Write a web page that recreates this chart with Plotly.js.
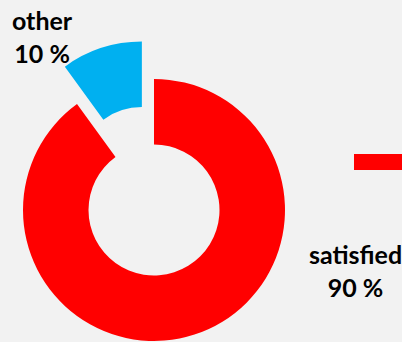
<!DOCTYPE html>
<html>
<head>
<meta charset="utf-8">
<script src="https://cdn.plot.ly/plotly-3.0.1.min.js"></script>
<style>
html, body { margin:0; padding:0; width:402px; height:342px; overflow:hidden; background:#f2f2f2; }
#chart { position:absolute; left:-40px; top:0; width:480px; height:420px; }
</style>
</head>
<body>
<div id="chart"></div>
<script>
// Data
var categories = ['satisfied', 'other'];
var shares = [90, 10];
var sliceColors = ['#ff0000', '#00b0f0'];
var pulls = [0, 0.3];

// Geometry helpers (page pixels -> paper fractions of the 480x420 plot)
var OX = 40, W = 480, H = 420;
function px(x) { return (x + OX) / W; }
function py(y) { return (H - y) / H; }

var trace = {
  type: 'pie',
  labels: categories,
  values: shares,
  marker: { colors: sliceColors, line: { width: 0 } },
  hole: 0.5,
  pull: pulls,
  sort: false,
  direction: 'clockwise',
  rotation: 0,
  textinfo: 'none',
  hoverinfo: 'none',
  showlegend: false,
  domain: { x: [px(-16.3), px(324.3)], y: [py(380.3), py(39.7)] }
};

var labelPos = [[355, 271], [42, 36]];
var annotations = categories.map(function (c, i) {
  return {
    xref: 'paper', yref: 'paper',
    x: px(labelPos[i][0]), y: py(labelPos[i][1]),
    xanchor: 'center', yanchor: 'middle',
    showarrow: false,
    text: c + '<br>' + shares[i] + ' %',
    font: { family: 'Lato, "Open Sans", sans-serif', size: 25, color: '#000000', weight: 'bold' }
  };
});

var layout = {
  width: W, height: H,
  margin: { l: 0, r: 0, t: 0, b: 0, pad: 0 },
  paper_bgcolor: '#f2f2f2',
  plot_bgcolor: '#f2f2f2',
  showlegend: false,
  annotations: annotations,
  shapes: [{
    type: 'rect', xref: 'paper', yref: 'paper',
    x0: px(354), x1: px(420), y0: py(170), y1: py(154),
    fillcolor: sliceColors[0], line: { width: 0 }
  }]
};

Plotly.newPlot('chart', [trace], layout, { staticPlot: true, displayModeBar: false });
</script>
</body>
</html>
